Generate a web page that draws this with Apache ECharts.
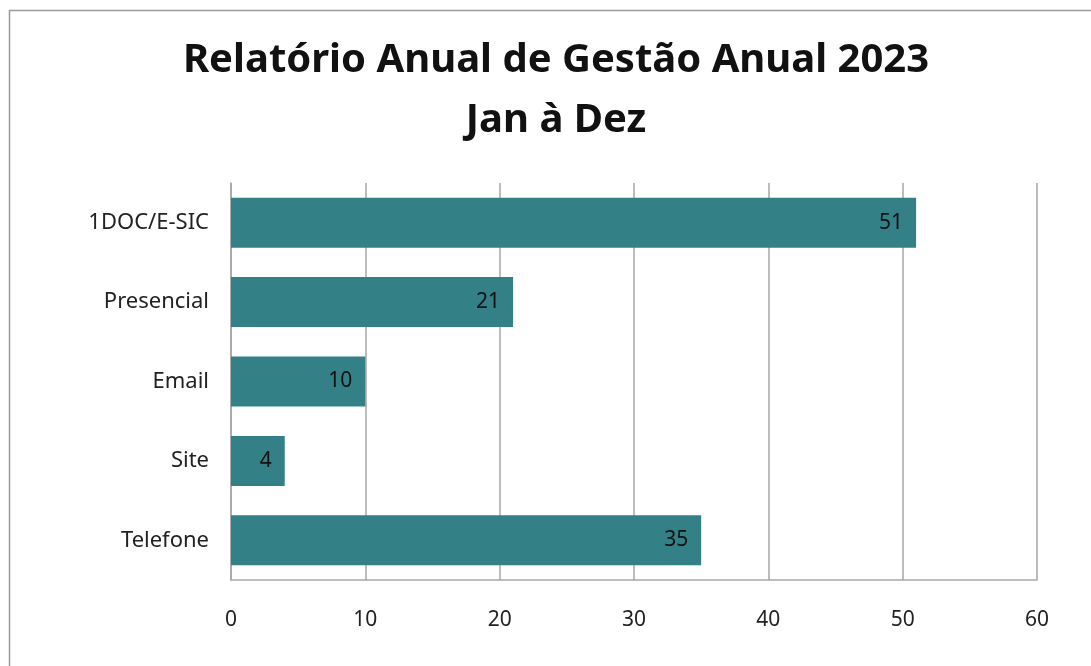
<!DOCTYPE html>
<html><head><meta charset="utf-8">
<script src="https://cdn.jsdelivr.net/npm/echarts@6/dist/echarts.min.js"></script>
<style>html,body{margin:0;padding:0;background:#fff}#c{width:1091px;height:666px}</style>
</head><body><div id="c"></div>
<script>
const titleLines = ['Relatório Anual de Gestão Anual 2023', 'Jan à Dez'];
const categories = ['1DOC/E-SIC', 'Presencial', 'Email', 'Site', 'Telefone'];
const values = [51, 21, 10, 4, 35];
const xTicks = { min: 0, max: 60, interval: 10 };

const titleStyle = { fontFamily: 'Noto Sans', fontWeight: 'bold', fontSize: 40, fill: '#111', align: 'center', verticalAlign: 'middle' };

const chart = echarts.init(document.getElementById('c'));
chart.setOption({
  animation: false,
  backgroundColor: '#fff',
  graphic: [
    { type: 'rect', left: 7, top: 8, shape: { width: 1100, height: 700 },
      style: { fill: 'none', stroke: '#9a9a9a', lineWidth: 1.5 }, silent: true, z: -1 },
    { type: 'text', x: 556, y: 61, style: Object.assign({ text: titleLines[0] }, titleStyle) },
    { type: 'text', x: 556, y: 121, style: Object.assign({ text: titleLines[1] }, titleStyle) }
  ],
  grid: { left: 231, right: 54, top: 183, bottom: 86, containLabel: false },
  xAxis: {
    type: 'value', min: xTicks.min, max: xTicks.max, interval: xTicks.interval,
    axisLine: { show: true, lineStyle: { color: '#a6a6a6', width: 1.5 } },
    axisTick: { show: false },
    splitLine: { show: true, lineStyle: { color: '#a6a6a6', width: 1.5 } },
    axisLabel: { margin: 30, fontFamily: 'Noto Sans', fontSize: 21, color: '#222' }
  },
  yAxis: {
    type: 'category', data: categories, inverse: true,
    axisLine: { show: true, lineStyle: { color: '#a6a6a6', width: 1.5 } },
    axisTick: { show: false },
    axisLabel: { margin: 22, fontFamily: 'Noto Sans', fontSize: 22, color: '#222' }
  },
  series: [{
    type: 'bar', data: values, barWidth: '63%',
    itemStyle: { color: '#338087' },
    label: { show: true, position: 'insideRight', distance: 13,
      fontFamily: 'Noto Sans', fontSize: 21, color: '#111' }
  }]
});
</script></body></html>
